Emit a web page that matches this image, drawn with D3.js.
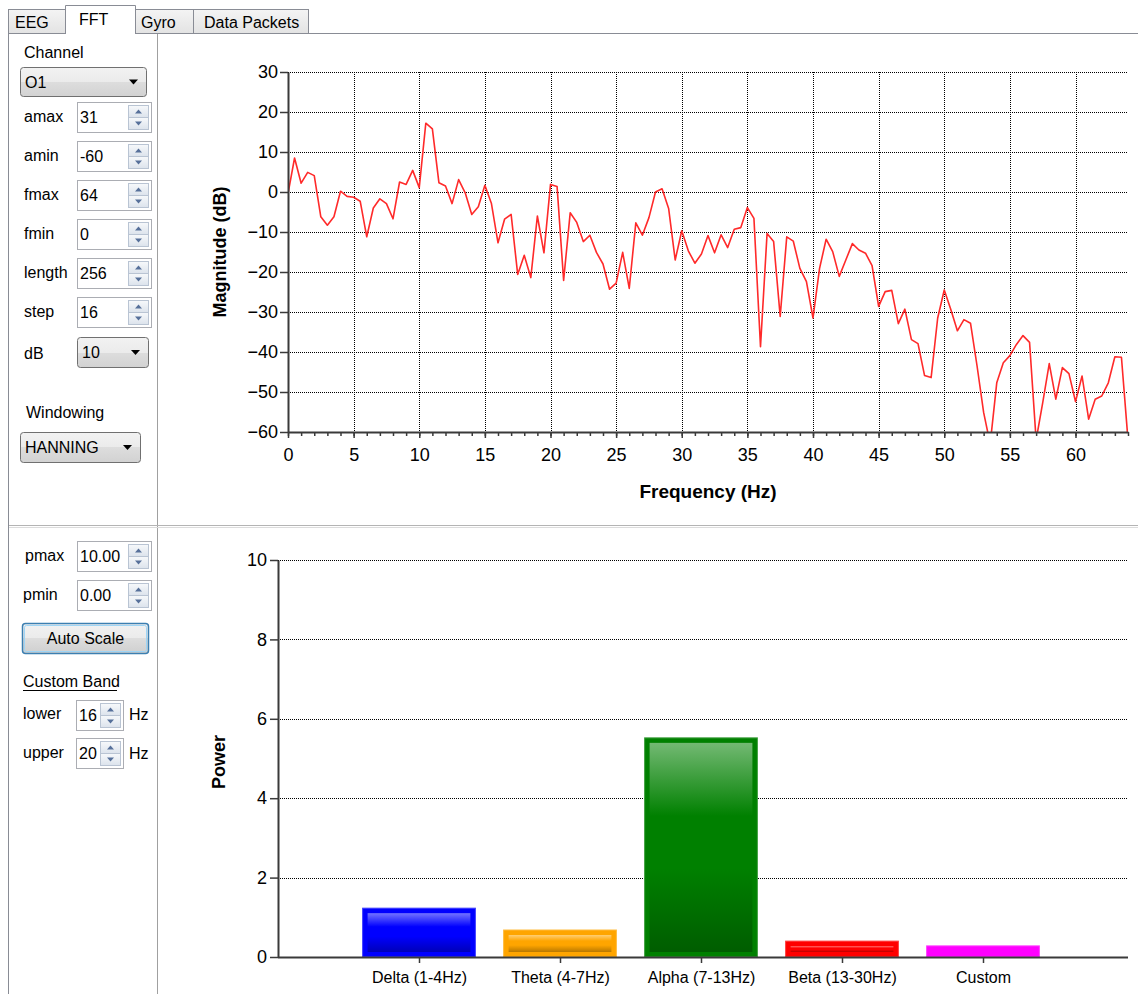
<!DOCTYPE html>
<html>
<head>
<meta charset="utf-8">
<script src="https://cdn.jsdelivr.net/npm/d3@7"></script>
<style>
  body { margin: 0; background: #fff; }
  svg { display: block; font-family: "Liberation Sans", Arial, sans-serif; }
  .ui { font-size: 16px; fill: #000; }
  .grid { stroke: #000; stroke-width: 1; stroke-dasharray: 1,1; shape-rendering: crispEdges; }
  .axis .domain { stroke: #3a3a3a; stroke-width: 2; }
  .axis .tick line { stroke: #3a3a3a; stroke-width: 1.5; }
  .axis text { font-family: "Liberation Sans", Arial, sans-serif; font-size: 18px; fill: #000; }
  .title { font-size: 18px; font-weight: bold; fill: #000; }
</style>
</head>
<body>
<svg id="app" width="1138" height="994"></svg>
<script>
// FFT magnitude of channel O1, one value per 0.5 Hz bin from 0 to 64 Hz
const binHz = 0.5
const magnitudeDb = [
  -0.4, 8.5, 2.2, 4.9, 4.1, -6.2, -8.3, -6.2, 0.2, -1.1,
  -1.3, -2.3, -11.2, -4.0, -1.7, -2.9, -6.7, 2.5, 1.9, 5.4,
  1.1, 17.2, 15.8, 2.3, 1.5, -2.9, 3.1, -0.2, -5.6, -3.7,
  1.7, -2.9, -12.7, -6.8, -5.6, -20.6, -15.8, -21.4, -6.0, -15.2,
  1.9, 1.4, -22.1, -5.2, -7.6, -12.4, -10.8, -15.1, -18.0, -24.3,
  -22.8, -15.1, -24.1, -7.7, -10.8, -6.4, 0.0, 0.8, -4.1, -17.0,
  -9.7, -14.7, -17.8, -15.5, -10.9, -15.2, -10.7, -13.9, -9.3, -8.9,
  -3.9, -6.6, -38.7, -10.4, -12.4, -31.1, -11.2, -12.3, -19.1, -22.4,
  -31.5, -19.1, -11.8, -14.9, -21.1, -17.0, -12.9, -14.5, -15.3, -18.4,
  -28.6, -24.9, -24.6, -32.9, -29.3, -36.9, -37.9, -45.9, -46.4, -31.5,
  -24.5, -29.4, -34.7, -31.9, -32.8, -43.5, -55.1, -63.0, -47.7, -42.7,
  -40.9, -38.1, -35.9, -37.6, -62.0, -52.7, -42.9, -51.8, -43.9, -45.4,
  -52.4, -46.0, -56.8, -51.8, -51.0, -47.7, -41.2, -41.3, -62.0
]
const fftYTicks = [30, 20, 10, 0, -10, -20, -30, -40, -50, -60]
const fftXTicks = [0, 5, 10, 15, 20, 25, 30, 35, 40, 45, 50, 55, 60]
const fftMinorTicks = d3.range(0, 65, 1)

// band power
const bandNames = ["Delta (1-4Hz)", "Theta (4-7Hz)", "Alpha (7-13Hz)", "Beta (13-30Hz)", "Custom"]
const bandPower = [1.23, 0.68, 5.52, 0.40, 0.28]
const bandColors = ["#0000ff", "#ffa500", "#008000", "#ff0000", "#ff00ff"]
const powerTicks = [0, 2, 4, 6, 8, 10]

const svg = d3.select("#app")
const defs = svg.append("defs")

function vGrad(id, stops) {
  const g = defs.append("linearGradient").attr("id", id)
    .attr("x1", 0).attr("y1", 0).attr("x2", 0).attr("y2", 1)
  stops.forEach(s => g.append("stop").attr("offset", s[0]).attr("stop-color", s[1]))
}
vGrad("tabGrad", [[0, "#f4f4f4"], [1, "#e3e3e3"]])
vGrad("comboGrad", [[0, "#f2f2f2"], [0.5, "#ebebeb"], [0.5, "#dddddd"], [1, "#d2d2d2"]])
vGrad("spinGrad", [[0, "#f7f9fb"], [1, "#dce3ec"]])
vGrad("btnGrad", [[0, "#f2f2f2"], [0.5, "#ebebeb"], [0.5, "#dddddd"], [1, "#cfcfcf"]])

// ---------- window chrome ----------
const chrome = svg.append("g")

const tabs = [
  {label: "EEG", x0: 8, x1: 67, tx: 15},
  {label: "FFT", x0: 67, x1: 134, tx: 79, selected: true},
  {label: "Gyro", x0: 134, x1: 193, tx: 141},
  {label: "Data Packets", x0: 193, x1: 308, tx: 204}
]
tabs.filter(t => !t.selected).forEach(t => {
  chrome.append("rect").attr("x", t.x0 + 0.5).attr("y", 9.5)
    .attr("width", t.x1 - t.x0).attr("height", 24)
    .attr("fill", "url(#tabGrad)").attr("stroke", "#898c95")
  chrome.append("text").attr("class", "ui").attr("x", t.tx).attr("y", 28).text(t.label)
})
// tab page border
chrome.append("path").attr("fill", "none").attr("stroke", "#898c95")
  .attr("d", "M8.5,994V33.5H1138")
tabs.filter(t => t.selected).forEach(t => {
  chrome.append("path").attr("fill", "#fff").attr("stroke", "#898c95")
    .attr("d", `M${t.x0 - 1.5},34V5.5H${t.x1 + 1.5}V34`)
  chrome.append("rect").attr("x", t.x0 - 1).attr("y", 32).attr("width", t.x1 - t.x0 + 2).attr("height", 3).attr("fill", "#fff")
  chrome.append("text").attr("class", "ui").attr("x", t.tx).attr("y", 25).text(t.label)
})

// splitters
chrome.append("line").attr("x1", 157.5).attr("x2", 157.5).attr("y1", 34).attr("y2", 994)
  .attr("stroke", "#a0a0a0")
chrome.append("line").attr("x1", 9).attr("x2", 1138).attr("y1", 525.5).attr("y2", 525.5)
  .attr("stroke", "#b4b4b4")
chrome.append("line").attr("x1", 9).attr("x2", 1138).attr("y1", 527.5).attr("y2", 527.5)
  .attr("stroke", "#dcdcdc")

// ---------- left panel controls ----------
const ui = svg.append("g")

function label(x, yb, txt) {
  return ui.append("text").attr("class", "ui").attr("x", x).attr("y", yb).text(txt)
}

function combo(x0, y0, w, h, value) {
  ui.append("rect").attr("x", x0 + 0.5).attr("y", y0 + 0.5).attr("width", w).attr("height", h)
    .attr("rx", 3).attr("fill", "url(#comboGrad)").attr("stroke", "#707070")
  label(x0 + 5, y0 + 21, value)
  const ax = x0 + w - 17, ay = y0 + h / 2 - 2
  ui.append("path").attr("fill", "#000").attr("d", `M${ax},${ay}h9l-4.5,5z`)
}

function spinBox(x0, y0, w, value) {
  const h = 30
  ui.append("rect").attr("x", x0 + 0.5).attr("y", y0 + 0.5).attr("width", w).attr("height", h)
    .attr("fill", "#fff").attr("stroke", "#abadb3")
  label(x0 + 3, y0 + 21, value)
  const sx = x0 + w - 23
  ;[0, 1].forEach(k => {
    const by = y0 + 3 + k * 12
    ui.append("rect").attr("x", sx + 0.5).attr("y", by + 0.5).attr("width", 20).attr("height", 12)
      .attr("fill", "url(#spinGrad)").attr("stroke", "#b9c4d3")
    const cx = sx + 10.5, cy = by + 6.5
    ui.append("path").attr("fill", "#56709a")
      .attr("d", k === 0 ? `M${cx - 3.5},${cy + 2}h7l-3.5,-4z` : `M${cx - 3.5},${cy - 2}h7l-3.5,4z`)
  })
}

label(24, 58, "Channel")
combo(20, 67, 126, 29, "O1")

const fftSettings = [["amax", "31"], ["amin", "-60"], ["fmax", "64"], ["fmin", "0"], ["length", "256"], ["step", "16"]]
fftSettings.forEach((s, i) => {
  const top = 102 + i * 39
  label(24, top + 20, s[0])
  spinBox(77, top, 74, s[1])
})
label(24, 359, "dB")
combo(77, 337, 71, 30, "10")
label(26, 418, "Windowing")
combo(20, 432, 120, 30, "HANNING")

label(25, 561, "pmax")
spinBox(77, 541, 74, "10.00")
label(23, 600, "pmin")
spinBox(77, 580, 74, "0.00")

ui.append("rect").attr("x", 22.5).attr("y", 623.5).attr("width", 126).attr("height", 30).attr("rx", 3)
  .attr("fill", "url(#btnGrad)").attr("stroke", "#3c7fb1").attr("stroke-width", 1.5)
ui.append("rect").attr("x", 24.5).attr("y", 625.5).attr("width", 122).attr("height", 26).attr("rx", 2)
  .attr("fill", "none").attr("stroke", "#9fd5f5").attr("stroke-width", 1)
ui.append("text").attr("class", "ui").attr("x", 85.5).attr("y", 644).attr("text-anchor", "middle").text("Auto Scale")

label(23, 687, "Custom Band")
ui.append("line").attr("x1", 23).attr("x2", 117).attr("y1", 690.5).attr("y2", 690.5).attr("stroke", "#000")
label(23, 719, "lower")
spinBox(76, 700, 47, "16")
label(129, 720, "Hz")
label(23, 758, "upper")
spinBox(76, 738, 47, "20")
label(129, 759, "Hz")

// ---------- FFT chart ----------
const fftBox = {left: 288, right: 1128, top: 72, bottom: 432}
const x = d3.scaleLinear().domain([0, 64]).range([fftBox.left, fftBox.right])
const y = d3.scaleLinear().domain([-60, 30]).range([fftBox.bottom, fftBox.top])

defs.append("clipPath").attr("id", "fftClip").append("rect")
  .attr("x", fftBox.left).attr("y", fftBox.top)
  .attr("width", fftBox.right - fftBox.left).attr("height", fftBox.bottom - fftBox.top)

const fftG = svg.append("g")

fftG.append("g").selectAll("line")
  .data(fftYTicks.filter(d => d > -60))
  .join("line").attr("class", "grid")
    .attr("x1", fftBox.left).attr("x2", fftBox.right)
    .attr("y1", d => Math.round(y(d)) + 0.5).attr("y2", d => Math.round(y(d)) + 0.5)
fftG.append("g").selectAll("line")
  .data(fftXTicks.filter(d => d > 0))
  .join("line").attr("class", "grid")
    .attr("x1", d => Math.round(x(d)) + 0.5).attr("x2", d => Math.round(x(d)) + 0.5)
    .attr("y1", fftBox.top).attr("y2", fftBox.bottom)

const line = d3.line()
  .x((d, i) => x(i * binHz))
  .y(d => y(d))

fftG.append("path")
  .datum(magnitudeDb)
  .attr("clip-path", "url(#fftClip)")
  .attr("fill", "none")
  .attr("stroke", "#ff2a2a")
  .attr("stroke-width", 1.6)
  .attr("stroke-linejoin", "round")
  .attr("d", line)

fftG.append("g").attr("class", "axis")
  .attr("transform", `translate(${fftBox.left},0)`)
  .call(d3.axisLeft(y).tickValues(fftYTicks).tickSize(8).tickPadding(2).tickSizeOuter(0))
fftG.append("g").attr("class", "axis")
  .attr("transform", `translate(0,${fftBox.bottom})`)
  .call(d3.axisBottom(x).tickValues(fftMinorTicks).tickSize(4).tickFormat(() => "").tickSizeOuter(0))
  .call(g => g.select(".domain").remove())
fftG.append("g").attr("class", "axis")
  .attr("transform", `translate(0,${fftBox.bottom})`)
  .call(d3.axisBottom(x).tickValues(fftXTicks).tickSize(6).tickPadding(10).tickSizeOuter(0))

fftG.append("text").attr("class", "title")
  .attr("transform", "translate(226,252) rotate(-90)")
  .attr("text-anchor", "middle").text("Magnitude (dB)")
fftG.append("text").attr("class", "title").style("font-size", "19px")
  .attr("x", 708).attr("y", 498)
  .attr("text-anchor", "middle").text("Frequency (Hz)")

// ---------- band power chart ----------
const powBox = {left: 278, right: 1128, top: 560, bottom: 957}
const xb = d3.scaleLinear().domain([0, bandNames.length + 1]).range([powBox.left, 1124])
const yb = d3.scaleLinear().domain([0, 10]).range([powBox.bottom, powBox.top])
const step = xb(1) - xb(0)
const barW = step * 0.8

const powG = svg.append("g")

powG.append("g").selectAll("line")
  .data(powerTicks.filter(d => d > 0))
  .join("line").attr("class", "grid")
    .attr("x1", powBox.left).attr("x2", powBox.right)
    .attr("y1", d => Math.round(yb(d)) + 0.5).attr("y2", d => Math.round(yb(d)) + 0.5)

bandColors.forEach((c, i) => {
  const base = d3.color(c)
  vGrad("bar" + i, [
    [0, d3.interpolateRgb(c, "#fff")(0.45)],
    [0.35, base.formatHex()],
    [0.6, base.formatHex()],
    [1, base.darker(0.9).formatHex()]
  ])
})

const bars = powG.append("g").selectAll("g")
  .data(bandPower)
  .join("g")

bars.append("rect")
  .attr("x", (d, i) => xb(i + 1) - barW / 2)
  .attr("y", d => yb(d))
  .attr("width", barW)
  .attr("height", d => yb(0) - yb(d))
  .attr("fill", (d, i) => bandColors[i])
  .attr("stroke", (d, i) => d3.interpolateRgb(bandColors[i], "#fff")(0.25))
  .attr("stroke-width", 1)

bars.filter(d => yb(0) - yb(d) > 13)
  .append("rect")
  .attr("x", d => xb(bandPower.indexOf(d) + 1) - barW / 2 + 5)
  .attr("y", d => yb(d) + 5)
  .attr("width", barW - 10)
  .attr("height", d => yb(0) - yb(d) - 10)
  .attr("fill", d => `url(#bar${bandPower.indexOf(d)})`)

powG.append("g").attr("class", "axis")
  .attr("transform", `translate(${powBox.left},0)`)
  .call(d3.axisLeft(yb).tickValues(powerTicks).tickSize(8).tickPadding(3).tickSizeOuter(0))
powG.append("g").attr("class", "axis")
  .attr("transform", `translate(0,${powBox.bottom})`)
  .call(d3.axisBottom(xb).tickValues(bandNames.map((d, i) => i + 1))
    .tickFormat(i => bandNames[i - 1]).tickSize(6).tickPadding(9).tickSizeOuter(0))
  .call(g => g.select(".domain").attr("d", `M${powBox.left},0.5H${powBox.right}`))
  .call(g => g.selectAll("text").style("font-size", "16px"))

powG.append("text").attr("class", "title")
  .attr("transform", "translate(225,762) rotate(-90)")
  .attr("text-anchor", "middle").text("Power")
</script>
</body>
</html>
